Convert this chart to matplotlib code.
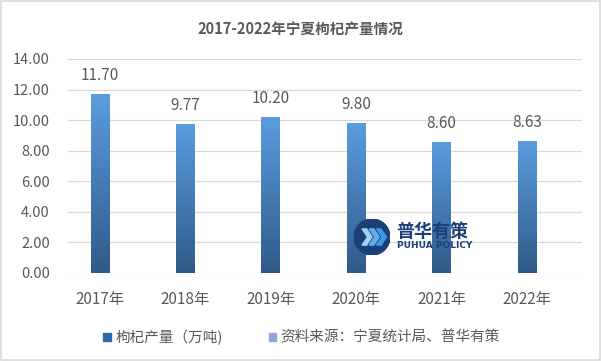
import numpy as np
import matplotlib
matplotlib.use("Agg")
from matplotlib import pyplot as plt
from matplotlib.patches import Rectangle, Circle, Polygon
from matplotlib.colors import LinearSegmentedColormap

plt.rcParams['font.family'] = ['Noto Sans CJK SC', 'DejaVu Sans']

years = ['2017年', '2018年', '2019年', '2020年', '2021年', '2022年']
output = [11.70, 9.77, 10.20, 9.80, 8.60, 8.63]
value_labels = ['11.70', '9.77', '10.20', '9.80', '8.60', '8.63']
title = '2017-2022年宁夏枸杞产量情况'
series_name = '枸杞产量（万吨)'
source_name = '资料来源：宁夏统计局、普华有策'

grey = '#595959'
grad = LinearSegmentedColormap.from_list('g', ['#2f5a88', '#5a9ddf'])

fig = plt.figure(figsize=(6.01, 3.61), dpi=100)
ax = fig.add_axes([0.1131, 0.2438, 0.8552, 0.5928])

x = np.arange(len(years))
bars = ax.bar(x, output, width=0.22, color='none', zorder=3)
g = np.linspace(0, 1, 256).reshape(-1, 1)
for b in bars:
    im = ax.imshow(g, cmap=grad, origin='lower', aspect='auto', zorder=3,
                   extent=[b.get_x(), b.get_x() + b.get_width(), 0, b.get_height()])
    im.set_clip_path(b)

for xi, v, s in zip(x, output, value_labels):
    ax.text(xi, v + 0.65, s, ha='center', va='bottom', fontsize=11, color=grey)

ax.set_xlim(-0.375, 5.644)
ax.set_ylim(0, 14)
ax.set_yticks(np.arange(0, 14.1, 2))
ax.set_yticklabels([f'{t:.2f}' for t in np.arange(0, 14.1, 2)])
ax.set_xticks(x)
ax.set_xticklabels(years)
ax.tick_params(axis='both', length=0, labelsize=10.5, colors=grey)
ax.tick_params(axis='x', labelsize=11, pad=13)
ax.tick_params(axis='y', pad=13)
ax.grid(axis='y', color='#d9d9d9', lw=0.9, zorder=0)
for sp in ax.spines.values():
    sp.set_visible(False)

fig.text(0.5, 0.917, title, ha='center', va='center', fontsize=10.5,
         fontweight='bold', color=grey)

# legend
fig.patches.append(Rectangle((0.172, 0.056), 0.0125, 0.021, transform=fig.transFigure,
                             color='#2f6aa8', figure=fig))
fig.text(0.192, 0.066, series_name, ha='left', va='center', fontsize=10.5, color=grey)
fig.patches.append(Rectangle((0.447, 0.056), 0.0125, 0.021, transform=fig.transFigure,
                             color='#8ea5d5', figure=fig))
fig.text(0.467, 0.066, source_name, ha='left', va='center', fontsize=10.5, color=grey)

# watermark logo
navy = '#1d3f78'
lx, ly, r = 372 / 601, 1 - 237 / 361, 18
logo = fig.add_axes([lx - r / 601, ly - r / 361, 2 * r / 601, 2 * r / 361])
logo.set_xlim(-1, 1)
logo.set_ylim(-1, 1)
logo.axis('off')
logo.add_patch(Circle((0, 0), 1, color=navy))
for dx, c in [(-0.55, '#9fd0f5'), (-0.15, '#5fb0ea'), (0.25, '#3d9ae0')]:
    logo.add_patch(Polygon([(dx, 0.45), (dx + 0.25, 0.45), (dx + 0.55, 0.0),
                            (dx + 0.25, -0.45), (dx, -0.45), (dx + 0.3, 0.0)],
                           color=c))
fig.text(396 / 601, 1 - 231 / 361, '普华有策', ha='left', va='center',
         fontsize=13, fontweight='bold', color=navy)
fig.text(397 / 601, 1 - 246 / 361, 'PUHUA POLICY', ha='left', va='center',
         fontsize=6.5, fontweight='bold', color=navy, family='DejaVu Sans')

fig.patches.append(Rectangle((0.001, 0.002), 0.997, 0.995, transform=fig.transFigure,
                             fill=False, edgecolor='#d9d9d9', lw=1.2, figure=fig))

fig.savefig('out.png', dpi=100)
